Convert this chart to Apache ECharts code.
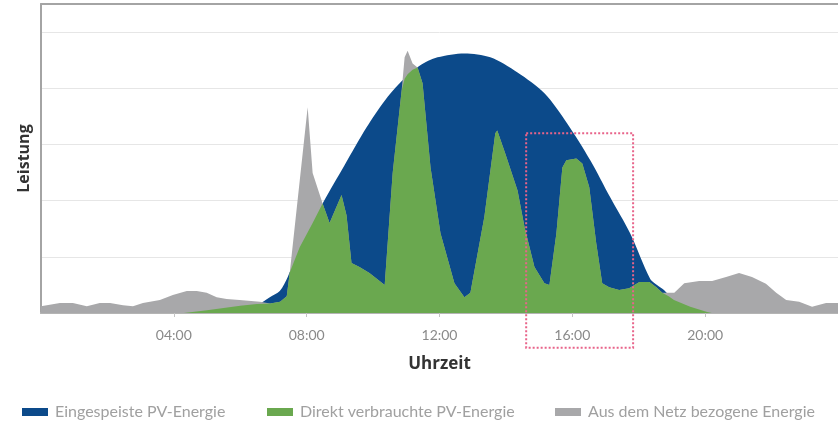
<!DOCTYPE html>
<html>
<head>
<meta charset="utf-8">
<script src="https://cdn.jsdelivr.net/npm/echarts@6/dist/echarts.min.js"></script>
<style>
  html, body { margin: 0; padding: 0; background: #ffffff; }
  #chart { width: 838px; height: 426px; }
</style>
</head>
<body>
<div id="chart"></div>
<script>
// Tagesverlauf: Leistung über die Uhrzeit, Werte als [Stunde, Leistung]
const tickHours = [4, 8, 12, 16, 20];
const tickLabels = ['04:00', '08:00', '12:00', '16:00', '20:00'];

const seriesNames = [
  'Eingespeiste PV-Energie',
  'Direkt verbrauchte PV-Energie',
  'Aus dem Netz bezogene Energie'
];

// PV-Erzeugung (Glockenkurve)
const pvCurve = [
  [0, 0], [4.48, 0], [4.99, 0.02], [5.5, 0.04], [5.98, 0.07], [6.5, 0.14],
  [6.89, 0.28], [7.19, 0.39], [7.43, 0.64], [7.79, 1.17], [8.18, 1.6],
  [8.48, 1.95], [9.14, 2.63], [9.8, 3.3], [10.35, 3.78], [10.8, 4.09],
  [11.4, 4.4], [11.94, 4.55], [12.75, 4.62], [13.53, 4.55], [14.35, 4.28],
  [15.16, 3.91], [15.85, 3.37], [16.54, 2.72], [17.14, 2.06], [17.74, 1.42],
  [18.35, 0.6], [18.55, 0.5], [18.76, 0.41], [19.06, 0.23], [19.55, 0.11],
  [20.06, 0.02], [20.27, 0], [24, 0]
];

// Verbrauch im Haushalt (Netzbezug sichtbar, wo er über der PV-Leistung liegt)
const loadCurve = [
  [0, 0.12], [0.06, 0.14], [0.57, 0.18], [0.96, 0.18], [1.38, 0.12], [1.77, 0.18],
  [2.08, 0.18], [2.47, 0.14], [2.77, 0.12], [3.07, 0.18], [3.58, 0.23], [3.97, 0.32],
  [4.39, 0.39], [4.69, 0.39], [4.99, 0.36], [5.29, 0.28], [5.59, 0.25], [5.98, 0.23],
  [6.59, 0.2], [6.9, 0.17], [7.2, 0.2], [7.4, 0.3], [7.49, 0.71], [8.03, 3.66],
  [8.18, 2.49], [8.48, 1.95], [8.69, 1.6], [9.05, 2.1], [9.2, 1.74], [9.35, 0.89],
  [9.59, 0.82], [9.89, 0.71], [10.35, 0.5], [10.59, 2.49], [10.86, 3.96], [10.95, 4.55],
  [11.04, 4.67], [11.19, 4.44], [11.34, 4.37], [11.49, 4.09], [11.73, 2.59], [12.03, 1.42],
  [12.45, 0.53], [12.75, 0.28], [12.93, 0.36], [13.35, 1.71], [13.68, 3.2], [13.74, 3.25],
  [13.98, 2.84], [14.35, 2.18], [14.56, 1.53], [14.86, 0.82], [15.16, 0.53], [15.31, 0.5],
  [15.52, 1.42], [15.7, 2.59], [15.82, 2.72], [16.12, 2.75], [16.3, 2.66], [16.51, 2.24],
  [16.72, 1.24], [16.9, 0.53], [17.11, 0.46], [17.41, 0.41], [17.71, 0.44], [18.02, 0.55],
  [18.32, 0.55], [18.53, 0.46], [18.71, 0.36], [18.83, 0.36], [19.07, 0.36], [19.37, 0.53],
  [19.82, 0.57], [20.21, 0.57], [20.63, 0.64], [21.02, 0.71], [21.41, 0.64], [21.83, 0.52],
  [22.14, 0.36], [22.44, 0.23], [22.83, 0.2], [23.22, 0.11], [23.64, 0.18], [24, 0.18]
];

// Direkt verbrauchte PV-Leistung
const directCurve = [
  [0, 0], [4.3, 0], [5.0, 0.05], [5.5, 0.09], [6.0, 0.13], [6.5, 0.16], [6.9, 0.17],
  [7.2, 0.2], [7.4, 0.3], [7.49, 0.72], [7.79, 1.17], [8.18, 1.6], [8.48, 1.95],
  [8.69, 1.6], [9.05, 2.1], [9.2, 1.74], [9.35, 0.89], [9.59, 0.82], [9.89, 0.71],
  [10.35, 0.5], [10.59, 2.49], [10.86, 3.96], [10.95, 4.17], [11.04, 4.25], [11.19, 4.33],
  [11.34, 4.37], [11.49, 4.09], [11.73, 2.59], [12.03, 1.42], [12.45, 0.53], [12.75, 0.28],
  [12.93, 0.36], [13.35, 1.71], [13.68, 3.2], [13.74, 3.25], [13.98, 2.84], [14.35, 2.18],
  [14.56, 1.53], [14.86, 0.82], [15.16, 0.53], [15.31, 0.5], [15.52, 1.42], [15.7, 2.59],
  [15.82, 2.72], [16.12, 2.75], [16.3, 2.66], [16.51, 2.24], [16.72, 1.24], [16.9, 0.53],
  [17.11, 0.46], [17.41, 0.41], [17.71, 0.44], [18.02, 0.55], [18.32, 0.55], [18.53, 0.46],
  [18.71, 0.36], [18.9, 0.3], [19.06, 0.23], [19.55, 0.11], [20.06, 0.02], [20.2, 0], [24, 0]
];

// Hervorgehobener Zeitraum am Nachmittag (Stunden / Leistung)
const focusHours = [14.61, 17.83];
const focusLevels = [3.2, -0.62];

const COLORS = { pv: '#0c4a8a', direct: '#6aa84f', grid: '#a8a8aa' };
const FONT = 'Lato, "Noto Sans", sans-serif';
const TITLE_FONT = '"Open Sans", Lato, sans-serif';

const chart = echarts.init(document.getElementById('chart'), null, { renderer: 'canvas' });

function areaSeries(name, data, color, smooth) {
  return {
    name: name,
    type: 'line',
    data: data,
    smooth: smooth,
    showSymbol: false,
    symbol: 'none',
    lineStyle: { width: 0 },
    itemStyle: { color: color },
    areaStyle: { color: color, opacity: 1 },
    emphasis: { disabled: true },
    animation: false
  };
}

const legendLefts = [22, 267, 555];

chart.setOption({
  animation: false,
  grid: { left: 41, right: 0, top: 4, bottom: 113, containLabel: false },
  xAxis: [
    {
      type: 'value',
      min: 0,
      max: 24,
      interval: 4,
      name: 'Uhrzeit',
      nameLocation: 'middle',
      nameGap: 43,
      nameTextStyle: { fontFamily: TITLE_FONT, fontWeight: 'bold', fontSize: 17, color: '#333333' },
      axisLine: { show: true, lineStyle: { color: '#b4b4b4', width: 2 } },
      axisTick: { show: true, length: 4, lineStyle: { color: '#c4c4c4' } },
      splitLine: { show: false },
      axisLabel: {
        margin: 15,
        fontFamily: FONT,
        fontSize: 14,
        color: '#8a8a8a',
        showMinLabel: false,
        showMaxLabel: false,
        formatter: function (v) {
          const i = tickHours.indexOf(v);
          return i >= 0 ? tickLabels[i] : '';
        }
      }
    },
    {
      type: 'value',
      position: 'top',
      min: 0,
      max: 24,
      axisLine: { show: true, lineStyle: { color: '#a4a4a4', width: 2 } },
      axisTick: { show: false },
      axisLabel: { show: false },
      splitLine: { show: false }
    }
  ],
  yAxis: {
    type: 'value',
    min: 0,
    max: 5.5,
    interval: 1,
    name: 'Leistung',
    nameLocation: 'middle',
    nameRotate: 90,
    nameGap: 9,
    nameTextStyle: { fontFamily: TITLE_FONT, fontWeight: 'bold', fontSize: 16, color: '#333333' },
    axisLine: { show: true, lineStyle: { color: '#a4a4a4', width: 2 } },
    axisTick: { show: false },
    axisLabel: { show: false },
    splitLine: { show: true, lineStyle: { color: '#e6e6e6', width: 1 } }
  },
  legend: seriesNames.map(function (name, i) {
    return {
      data: [name],
      left: legendLefts[i],
      top: 404,
      padding: 0,
      itemWidth: 26,
      itemHeight: 8,
      itemGap: 0,
      icon: 'rect',
      selectedMode: false,
      textStyle: { fontFamily: FONT, fontSize: 16, color: '#a0a0a0', padding: [0, 0, 0, 2] }
    };
  }),
  series: [
    areaSeries(seriesNames[0], pvCurve, COLORS.pv, 0.3),
    areaSeries(seriesNames[2], loadCurve, COLORS.grid, false),
    areaSeries(seriesNames[1], directCurve, COLORS.direct, false)
  ]
});

// Gestrichelter Rahmen um den Nachmittag, über die Achsen in Pixel umgerechnet
const p1 = chart.convertToPixel({ gridIndex: 0 }, [focusHours[0], focusLevels[0]]);
const p2 = chart.convertToPixel({ gridIndex: 0 }, [focusHours[1], focusLevels[1]]);
chart.setOption({
  graphic: [{
    type: 'rect',
    silent: true,
    z: 100,
    shape: { x: p1[0], y: p1[1], width: p2[0] - p1[0], height: p2[1] - p1[1] },
    style: { fill: 'none', stroke: '#e8648a', lineWidth: 2, lineDash: [2, 2] }
  }]
});
</script>
</body>
</html>
